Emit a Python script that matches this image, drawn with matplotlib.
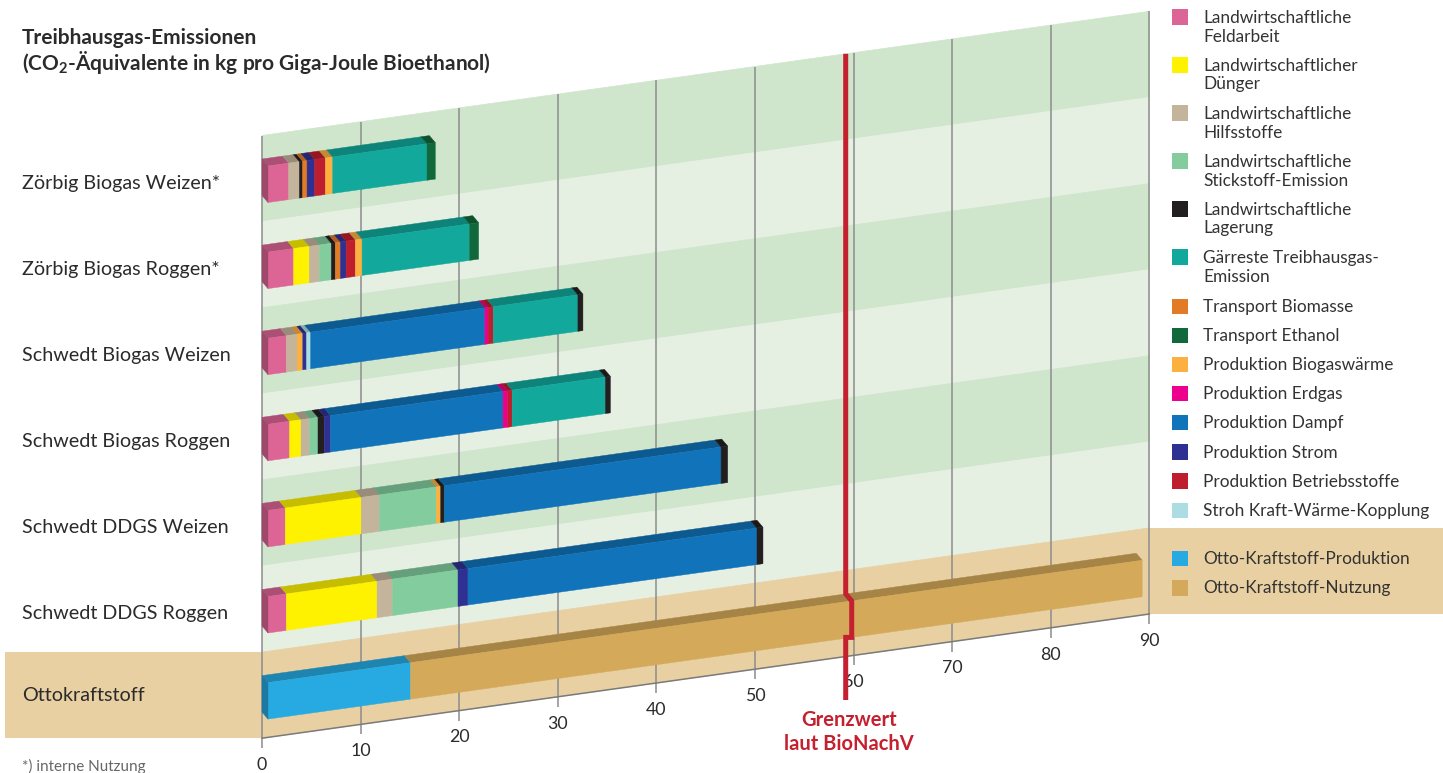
import numpy as np
import matplotlib
matplotlib.use("Agg")
import matplotlib.pyplot as plt
from matplotlib.patches import Polygon, Rectangle
from matplotlib.transforms import Affine2D
from matplotlib.colors import to_rgb

# ---------------------------------------------------------------- data
row_labels = [
    "Zörbig Biogas Weizen*",
    "Zörbig Biogas Roggen*",
    "Schwedt Biogas Weizen",
    "Schwedt Biogas Roggen",
    "Schwedt DDGS Weizen",
    "Schwedt DDGS Roggen",
    "Ottokraftstoff",
]

legend_keys = ["feld", "duenger", "hilfs", "stickstoff", "lager", "gaerrest",
               "tr_bio", "tr_eth", "biowaerme", "erdgas", "dampf", "strom",
               "betrieb", "stroh", "otto_prod", "otto_nutz"]
legend_labels = [
    "Landwirtschaftliche\nFeldarbeit",
    "Landwirtschaftlicher\nDünger",
    "Landwirtschaftliche\nHilfsstoffe",
    "Landwirtschaftliche\nStickstoff-Emission",
    "Landwirtschaftliche\nLagerung",
    "Gärreste Treibhausgas-\nEmission",
    "Transport Biomasse",
    "Transport Ethanol",
    "Produktion Biogaswärme",
    "Produktion Erdgas",
    "Produktion Dampf",
    "Produktion Strom",
    "Produktion Betriebsstoffe",
    "Stroh Kraft-Wärme-Kopplung",
    "Otto-Kraftstoff-Produktion",
    "Otto-Kraftstoff-Nutzung",
]
legend_colors = ["#dc6596", "#fff200", "#c4b49c", "#82cc9e", "#231f20",
                 "#12a89c", "#e27b25", "#11683a", "#fbb040", "#ec008c",
                 "#1173ba", "#2e3192", "#be1e2d", "#abdde3", "#27aae1",
                 "#d4a95a"]

zoerbig_weizen_parts = ["feld", "hilfs", "lager", "tr_bio", "strom",
                        "betrieb", "biowaerme", "gaerrest", "tr_eth"]
zoerbig_weizen_vals = [2.09, 1.09, 0.33, 0.45, 0.77, 1.09, 0.74, 9.57, 0.84]

zoerbig_roggen_parts = ["feld", "duenger", "hilfs", "stickstoff", "lager",
                        "tr_bio", "strom", "betrieb", "biowaerme", "gaerrest",
                        "tr_eth"]
zoerbig_roggen_vals = [2.60, 1.59, 1.01, 1.22, 0.41, 0.51, 0.58, 0.94, 0.68,
                       10.91, 0.91]

schwedt_bw_parts = ["feld", "hilfs", "biowaerme", "strom", "stroh", "dampf",
                    "erdgas", "betrieb", "gaerrest", "lager"]
schwedt_bw_vals = [1.86, 1.09, 0.58, 0.38, 0.41, 17.68, 0.33, 0.51, 8.59, 0.51]

schwedt_br_parts = ["feld", "duenger", "hilfs", "stickstoff", "lager", "strom",
                    "dampf", "erdgas", "betrieb", "gaerrest", "lager"]
schwedt_br_vals = [2.19, 1.16, 0.87, 0.85, 0.64, 0.64, 17.49, 0.47, 0.45,
                   9.46, 0.51]

ddgs_w_parts = ["feld", "duenger", "hilfs", "stickstoff", "biowaerme", "lager",
                "dampf", "lager"]
ddgs_w_vals = [1.75, 7.71, 1.86, 5.75, 0.44, 0.38, 28.06, 0.67]

ddgs_r_parts = ["feld", "duenger", "hilfs", "stickstoff", "strom", "dampf",
                "lager"]
ddgs_r_vals = [1.86, 9.20, 1.55, 6.66, 1.01, 29.31, 0.61]

otto_parts = ["otto_prod", "otto_nutz"]
otto_vals = [14.46, 74.2]

row_parts = [zoerbig_weizen_parts, zoerbig_roggen_parts, schwedt_bw_parts,
             schwedt_br_parts, ddgs_w_parts, ddgs_r_parts, otto_parts]
row_vals = [zoerbig_weizen_vals, zoerbig_roggen_vals, schwedt_bw_vals,
            schwedt_br_vals, ddgs_w_vals, ddgs_r_vals, otto_vals]

x_ticks = [0, 10, 20, 30, 40, 50, 60, 70, 80, 90]
grenzwert = 59.2

# ---------------------------------------------------------------- styling
FONT = ["Lato", "DejaVu Sans"]
plt.rcParams["font.family"] = FONT
plt.rcParams["mathtext.fontset"] = "custom"
plt.rcParams["mathtext.rm"] = "Lato"
plt.rcParams["mathtext.bf"] = "Lato:bold"

TXT = "#2b2b2b"
GRID = "#8c8c8c"
BAND_DARK = "#cfe6cd"
BAND_LIGHT = "#e5f0e3"
BAND_TAN = "#e8d0a2"
RED = "#c42030"

W, H = 1443, 773
fig = plt.figure(figsize=(W / 100, H / 100), dpi=100)
ax = fig.add_axes([0, 0, 1, 1])
ax.set_xlim(0, W)
ax.set_ylim(H, 0)
ax.axis("off")

# oblique value plane: value v runs to the right and rises with the floor
X0, PX_PER_UNIT, RISE = 262.0, 9.86, 1.38
skew = Affine2D(np.array([[PX_PER_UNIT, 0, X0],
                          [-RISE, 1, 0],
                          [0, 0, 1]])) + ax.transData

# depth of a bar (front face relative to back face), in plane coordinates
DEPTH_PX = (6.0, 7.0)
DV = DEPTH_PX[0] / PX_PER_UNIT
DY = DEPTH_PX[1] + RISE * DV

BAND_TOP = 135.5
BAND_H = 86.1
V_MAX = 90
BAR_TOP_OFF, BAR_BOT_OFF = 23.5, 60.0

color_of = dict(zip(legend_keys, legend_colors))


def shade(c, f):
    r, g, b = to_rgb(c)
    return (r * f, g * f, b * f)


# background bands
n_rows = len(row_labels)
for i in range(n_rows):
    y1 = BAND_TOP + i * BAND_H
    y2 = y1 + BAND_H
    if i == n_rows - 1:
        col = BAND_TAN
    else:
        col = BAND_DARK if i % 2 == 0 else BAND_LIGHT
    ax.add_patch(Polygon([(0, y1), (V_MAX, y1), (V_MAX, y2), (0, y2)],
                         closed=True, transform=skew, facecolor=col,
                         edgecolor=col, lw=0.5, zorder=1))

# tan extensions of the reference-fuel band (left label box, right legend box)
tan_top = BAND_TOP + (n_rows - 1) * BAND_H
tan_bot = tan_top + BAND_H
ax.add_patch(Rectangle((5, tan_top), X0 - 5, BAND_H, facecolor=BAND_TAN,
                       edgecolor="none", zorder=1))
x_r = X0 + PX_PER_UNIT * V_MAX
ax.add_patch(Rectangle((x_r, tan_top - RISE * V_MAX), W - x_r, BAND_H,
                       facecolor=BAND_TAN, edgecolor="none", zorder=1))

# grid lines + ticks
for t in x_ticks:
    ax.plot([t, t], [BAND_TOP, tan_bot + 10], transform=skew, color=GRID,
            lw=1.1, zorder=2, solid_capstyle="butt")
    ax.text(t, 765, str(t), transform=skew, ha="center", va="center",
            fontsize=12.8, color=TXT, zorder=6)
# floor edge
ax.plot([0, V_MAX], [tan_bot, tan_bot], transform=skew, color="#7a7a7a",
        lw=1.1, zorder=2)


# bars
def draw_bar(i, parts, vals):
    top = BAND_TOP + i * BAND_H + BAR_TOP_OFF
    bot = BAND_TOP + i * BAND_H + BAR_BOT_OFF
    edges = np.concatenate([[0], np.cumsum(vals)])
    for k, key in enumerate(parts):
        a, b = edges[k], edges[k + 1]
        c = color_of[key]
        # top face
        ax.add_patch(Polygon([(a, top), (b, top), (b + DV, top + DY),
                              (a + DV, top + DY)], closed=True,
                             transform=skew, facecolor=shade(c, 0.78),
                             edgecolor=shade(c, 0.78), lw=0.3, zorder=4))
        # front face
        ax.add_patch(Polygon([(a + DV, top + DY), (b + DV, top + DY),
                              (b + DV, bot + DY), (a + DV, bot + DY)],
                             closed=True, transform=skew, facecolor=c,
                             edgecolor=c, lw=0.3, zorder=4))
    c0 = color_of[parts[0]]
    ax.add_patch(Polygon([(0, top), (DV, top + DY), (DV, bot + DY), (0, bot)],
                         closed=True, transform=skew,
                         facecolor=shade(c0, 0.72), edgecolor=shade(c0, 0.72),
                         lw=0.3, zorder=4))
    return top, bot


for i in range(n_rows):
    top_i, bot_i = draw_bar(i, row_parts[i], row_vals[i])

# limit line, bending over the reference bar
otto_top, otto_bot = top_i, bot_i
red_v = [grenzwert, grenzwert, grenzwert + DV, grenzwert + DV, grenzwert,
         grenzwert]
red_y = [BAND_TOP, otto_top, otto_top + DY, otto_bot + DY,
         otto_bot + DY - RISE * DV, 700 + RISE * grenzwert]
ax.plot(red_v, red_y, transform=skew, color=RED, lw=3.6, zorder=7,
        solid_joinstyle="miter", solid_capstyle="butt")
x_red = X0 + PX_PER_UNIT * grenzwert
ax.text(x_red + 3, 720, "Grenzwert", ha="center", va="center",
        fontsize=14.5, fontweight="bold", color=RED)
ax.text(x_red + 3, 744, "laut BioNachV", ha="center", va="center",
        fontsize=14.5, fontweight="bold", color=RED)

# category labels
for i, lab in enumerate(row_labels):
    yc = BAND_TOP + i * BAND_H + 48
    if i == n_rows - 1:
        yc -= 5
    ax.text(22, yc, lab, ha="left", va="center", fontsize=14.2, color=TXT)

# title
ax.text(22, 38, "Treibhausgas-Emissionen", ha="left", va="center",
        fontsize=15, fontweight="bold", color=TXT)
ax.text(22, 62, r"(CO$_\mathbf{2}$-Äquivalente in kg pro Giga-Joule Bioethanol)",
        ha="left", va="center", fontsize=15, fontweight="bold", color=TXT)
ax.text(22, 766, "*) interne Nutzung", ha="left", va="center", fontsize=11,
        color="#666666")

# legend
leg_top = [9.3, 57.3, 105.3, 153.3, 201.3, 249.3, 298.5, 327.5, 356.5,
           385.7, 414.8, 444.0, 473.3, 502.6, 550.5, 580.0]
for key, lab, col, yt in zip(legend_keys, legend_labels, legend_colors,
                             leg_top):
    ax.add_patch(Rectangle((1172, yt), 16, 15.5, facecolor=col,
                           edgecolor="none", zorder=5))
    lines = lab.split("\n")
    for j, ln in enumerate(lines):
        ax.text(1203, yt + 8.5 + 18.7 * j, ln, ha="left", va="center",
                fontsize=12.4, color="#333333", zorder=6)

fig.savefig("out.png", dpi=100)
